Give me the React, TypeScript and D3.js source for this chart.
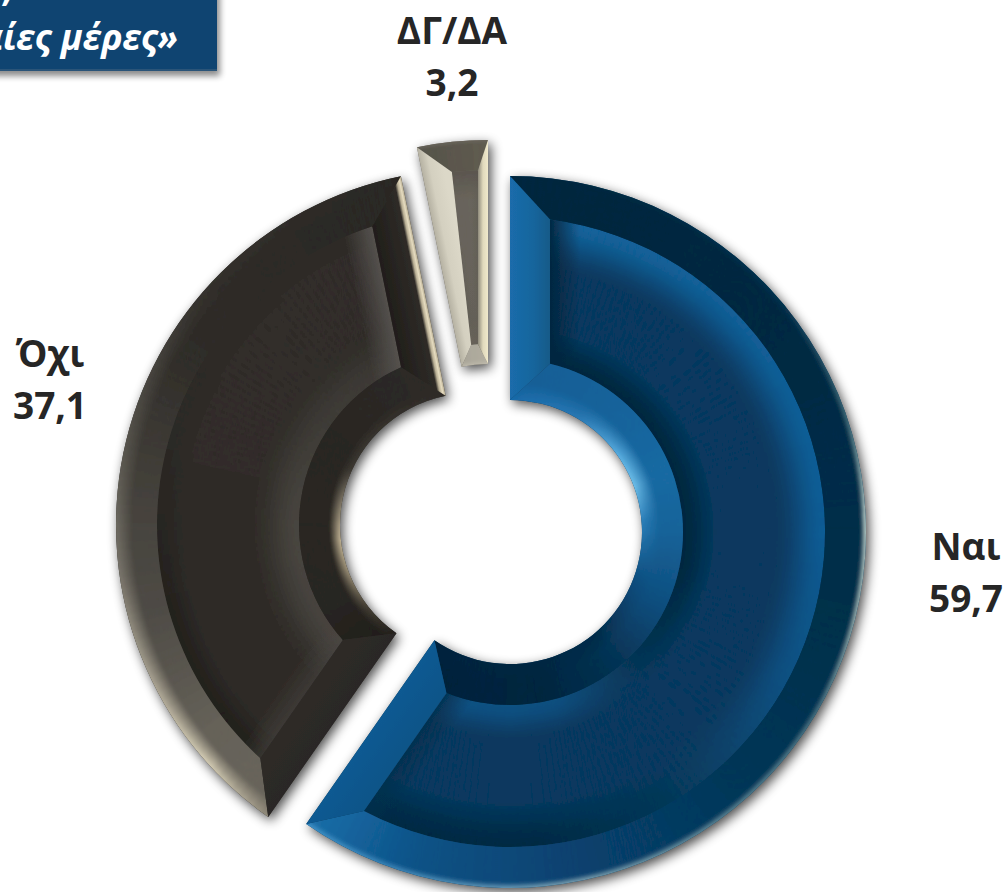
import React from "react";
import * as d3 from "d3";

const categories = ["Ναι", "Όχι", "ΔΓ/ΔΑ"];
const values = [59.7, 37.1, 3.2];
const titleLines = [",", "τις τελευταίες μέρες»"];

type Stops = [number, string][];
type Look = {
  dx: number; dy: number; lx: number; ly: number;
  bevelOut: number; bevelIn: number; perpS: number; perpE: number; offS: number; offE: number;
  under: string;
  outerBase: Stops; outerEdge: Stops; outerW: number;
  innerBase: Stops; innerEdge: Stops; innerW: number;
  faceMid: Stops; faceIn: Stops; faceOut: Stops; fadeIn: number; fadeOut: number;
  sideS: [number, string][]; sideE: [number, string][]; sideWS: number; sideWE: number;
  overS: [string, number, number]; overE: [string, number, number];
};

const looks: Look[] = [
  {
    dx: 0, dy: 0, lx: 966, ly: 560,
    bevelOut: 41, bevelIn: 41, perpS: 40, perpE: 40, offS: 0, offE: 0, under: "#07395f",
    outerBase: [[0, "#03263c"], [50, "#032a42"], [100, "#032f4a"], [135, "#053756"], [170, "#084270"], [195, "#0d5286"], [207, "#14639c"], [215, "#1c70aa"]],
    outerEdge: [[0, "#03263c"], [50, "#063450"], [72, "#3f6b78"], [88, "#b4c8c4"], [105, "#90a8a8"], [120, "#46707f"], [140, "#56808f"], [170, "#7a9fb0"], [200, "#3a85b8"], [215, "#3f92c8"]],
    outerW: 5,
    innerBase: [[0, "#145f97"], [40, "#17649c"], [70, "#1a6ba4"], [90, "#17649a"], [115, "#0f5080"], [140, "#073555"], [170, "#03253e"], [215, "#03233a"]],
    innerEdge: [[0, "#1a6cab"], [30, "#2a7ab6"], [55, "#5fb4e6"], [70, "#74c4ee"], [85, "#2f83bd"], [110, "#0d4f80"], [140, "#052c48"], [215, "#04233c"]],
    innerW: 18,
    faceMid: [[0, "#07395f"], [215, "#07395f"]],
    faceIn: [[0, "#03283f"], [100, "#03283f"], [135, "#063453"], [165, "#0d5080"], [215, "#0e5386"]],
    faceOut: [[0, "#14649c"], [90, "#105c94"], [120, "#0c5080"], [150, "#063858"], [175, "#032a44"], [215, "#032a44"]],
    fadeIn: 38, fadeOut: 52,
    sideS: [[0, "#1a6cab"], [0.6, "#17659c"], [1, "#145a88"]],
    sideE: [[0, "#0f5a92"], [1, "#0e5488"]],
    sideWS: 40, sideWE: 40,
    overS: ["#03263f", 0.95, 30], overE: ["#04304e", 0.85, 26],
  },
  {
    dx: -38, dy: -7, lx: 50, ly: 367,
    bevelOut: 41, bevelIn: 41, perpS: 40, perpE: 38, offS: 0, offE: 0, under: "#2f2c28",
    outerBase: [[215, "#6a665c"], [232, "#67635a"], [255, "#4f4c46"], [275, "#45423c"], [300, "#312e2a"], [349, "#2b2824"]],
    outerEdge: [[215, "#8f897a"], [228, "#d8d0b8"], [245, "#a8a291"], [262, "#7a766c"], [285, "#55524b"], [310, "#36332f"], [349, "#2b2824"]],
    outerW: 16,
    innerBase: [[215, "#201e1b"], [240, "#292622"], [262, "#292622"], [300, "#2a2723"], [349, "#2f2c28"]],
    innerEdge: [[215, "#25231f"], [232, "#4a4438"], [250, "#a2967c"], [264, "#cbbc9b"], [280, "#877f6d"], [295, "#3e3a34"], [349, "#2f2c28"]],
    innerW: 11,
    faceMid: [[215, "#2f2c28"], [349, "#302d29"]],
    faceIn: [[215, "#46433e"], [270, "#48453f"], [300, "#403d38"], [349, "#3a3733"]],
    faceOut: [[215, "#23201d"], [255, "#24211e"], [290, "#2d2a26"], [349, "#302d29"]],
    fadeIn: 50, fadeOut: 34,
    sideS: [[0, "#2b2825"], [1, "#2e2b28"]],
    sideE: [[0, "#b8ae94"], [0.06, "#e6dcc0"], [0.13, "#b8ae94"], [0.2, "#2e2b27"], [1, "#211e1b"]],
    sideWS: 40, sideWE: 38,
    overS: ["#4a4743", 0.5, 24], overE: ["#56534f", 0.95, 30],
  },
  {
    dx: -22, dy: -36, lx: 452, ly: 44,
    bevelOut: 30, bevelIn: 20, perpS: 0, perpE: 10, offS: 0.09, offE: 0, under: "#66625a",
    outerBase: [[348, "#55524a"], [360, "#5f5b50"]],
    outerEdge: [[348, "#6a665c"], [360, "#6a665c"]],
    outerW: 3,
    innerBase: [[348, "#a8a498"], [360, "#b4b0a2"]],
    innerEdge: [[348, "#c0bcae"], [360, "#c0bcae"]],
    innerW: 4,
    faceMid: [[348, "#66625a"], [360, "#6a665c"]],
    faceIn: [[348, "#6e6a60"], [360, "#6e6a60"]],
    faceOut: [[348, "#5c5850"], [360, "#5c5850"]],
    fadeIn: 30, fadeOut: 30,
    sideS: [[0, "#b5b1a2"], [0.4, "#d4d0c0"], [1, "#dcd8c8"]],
    sideE: [[0, "#f0e9cc"], [0.5, "#e0d9bc"], [1, "#8f8b7c"]],
    sideWS: 22, sideWE: 10,
    overS: ["#5a564e", 0.3, 8], overE: ["#5a564e", 0.3, 8],
  },
];

const CX = 510, CY = 532, R = 356, R0 = 132;
const DEG = 180 / Math.PI;
const BLEED = 6;
const unit = (v: number) => Math.max(0, Math.min(1, v));
const pt = (a: number, r: number): [number, number] => [r * Math.sin(a), -r * Math.cos(a)];
const ramp = (stops: Stops) =>
  d3.scaleLinear<string>().domain(stops.map((s) => s[0])).range(stops.map((s) => s[1])).interpolate(d3.interpolateRgb).clamp(true);

const cellArc = d3.arc<any>();
const pieGen = d3.pie<number>().sort(null).startAngle(0).endAngle(2 * Math.PI);

function Slice({ index, a0, a1 }: { index: number; a0: number; a1: number }) {
  const k = looks[index];
  const Ro = R - k.bevelOut, Ri = R0 + k.bevelIn;
  const as = (r: number) => a0 + Math.asin(k.perpS / r) + k.offS;
  const ae = (r: number) => a1 - Math.asin(k.perpE / r) - k.offE;
  const arcTo = (p: d3.Path, r: number, from: number, to: number) =>
    p.arc(0, 0, r, from - Math.PI / 2, to - Math.PI / 2, to < from);
  const poly = (pts: [number, number][]) => {
    const p = d3.path();
    pts.forEach((q, i) => (i ? p.lineTo(q[0], q[1]) : p.moveTo(q[0], q[1])));
    p.closePath();
    return p.toString();
  };
  const band = (r: number, rc: number, f: number, t: number) => {
    const p = d3.path();
    const s = pt(f, r);
    p.moveTo(s[0], s[1]);
    arcTo(p, r, f, t);
    const c = pt(ae(rc), rc);
    p.lineTo(c[0], c[1]);
    arcTo(p, rc, ae(rc), as(rc));
    p.closePath();
    return p.toString();
  };
  const outerP = band(R, Ro, a0, a1);
  const innerP = band(R0, Ri, a0, a1);
  const faceP = (() => {
    const p = d3.path();
    const s = pt(as(Ro), Ro);
    p.moveTo(s[0], s[1]);
    arcTo(p, Ro, as(Ro), ae(Ro));
    const c = pt(ae(Ri), Ri);
    p.lineTo(c[0], c[1]);
    arcTo(p, Ri, ae(Ri), as(Ri));
    p.closePath();
    return p.toString();
  })();
  const sideSP = poly([pt(a0, R), pt(as(Ro), Ro), pt(as(Ri), Ri), pt(a0, R0)]);
  const sideEP = poly([pt(a1, R), pt(ae(Ro), Ro), pt(ae(Ri), Ri), pt(a1, R0)]);
  const whole = cellArc({ innerRadius: R0, outerRadius: R, startAngle: a0, endAngle: a1 }) as string;

  const step = 1.5 / DEG;
  const angles = d3.range(a0 - 3 * step, a1 + 3 * step, step);
  const cells = (rA: number, rB: number, dr: number, color: (deg: number, r: number) => string) => {
    const out: React.ReactNode[] = [];
    for (let r = rA - BLEED; r < rB + BLEED; r += dr) {
      angles.forEach((a, i) => {
        const c = color((a + step / 2) * DEG, r + dr / 2);
        out.push(
          <path key={r + "_" + i} fill={c} stroke={c} strokeWidth={0.7}
            d={cellArc({ innerRadius: r, outerRadius: r + dr, startAngle: a, endAngle: a + step }) as string} />
        );
      });
    }
    return out;
  };
  const oB = ramp(k.outerBase), oE = ramp(k.outerEdge), iB = ramp(k.innerBase), iE = ramp(k.innerEdge);
  const fM = ramp(k.faceMid), fI = ramp(k.faceIn), fO = ramp(k.faceOut);
  const outerColor = (d: number, r: number) => d3.interpolateRgb(oE(d), oB(d))(unit((R - r) / k.outerW));
  const innerColor = (d: number, r: number) => d3.interpolateRgb(iE(d), iB(d))(unit((r - R0) / k.innerW));
  const faceColor = (d: number, r: number) => {
    let c = fM(d);
    const di = unit((r - Ri) / k.fadeIn), dd = unit((Ro - r) / k.fadeOut);
    if (di < 1) c = d3.interpolateRgb(fI(d), c)(d3.easeSinInOut(di));
    if (dd < 1) c = d3.interpolateRgb(fO(d), c)(d3.easeSinInOut(dd));
    return c;
  };

  const nS: [number, number] = [Math.cos(a0), Math.sin(a0)];
  const nE: [number, number] = [-Math.cos(a1), -Math.sin(a1)];
  const eS = pt(a0, 200), eE = pt(a1, 200);
  const gradS = { x1: eS[0], y1: eS[1], x2: eS[0] + nS[0] * k.sideWS, y2: eS[1] + nS[1] * k.sideWS };
  const gradE = { x1: eE[0], y1: eE[1], x2: eE[0] + nE[0] * k.sideWE, y2: eE[1] + nE[1] * k.sideWE };
  const pS = pt(as(200), 200), pE = pt(ae(200), 200);
  const ovS = { x1: pS[0], y1: pS[1], x2: pS[0] + nS[0] * k.overS[2], y2: pS[1] + nS[1] * k.overS[2] };
  const ovE = { x1: pE[0], y1: pE[1], x2: pE[0] + nE[0] * k.overE[2], y2: pE[1] + nE[1] * k.overE[2] };
  const strip = (a: number, n: [number, number], w: number) => {
    const A = pt(a, R + 40), B = pt(a, R0 - 60);
    return poly([A, [A[0] + n[0] * w, A[1] + n[1] * w], [B[0] + n[0] * w, B[1] + n[1] * w], B]);
  };
  const stripS = strip(a0, nS, k.sideWS + k.overS[2] + 20);
  const stripE = strip(a1, nE, k.sideWE + k.overE[2] + 20);
  const id = "s" + index;

  return (
    <g transform={`translate(${CX + k.dx},${CY + k.dy})`} filter="url(#tiny)">
      <defs>
        <clipPath id={id + "o"}><path d={outerP} /></clipPath>
        <clipPath id={id + "i"}><path d={innerP} /></clipPath>
        <clipPath id={id + "f"}><path d={faceP} /></clipPath>
        <linearGradient id={id + "gs"} gradientUnits="userSpaceOnUse" {...gradS}>
          {k.sideS.map((s, i) => <stop key={i} offset={s[0]} stopColor={s[1]} />)}
        </linearGradient>
        <linearGradient id={id + "ge"} gradientUnits="userSpaceOnUse" {...gradE}>
          {k.sideE.map((s, i) => <stop key={i} offset={s[0]} stopColor={s[1]} />)}
        </linearGradient>
        <linearGradient id={id + "vs"} gradientUnits="userSpaceOnUse" {...ovS}>
          <stop offset={0} stopColor={k.overS[0]} stopOpacity={k.overS[1]} />
          <stop offset={1} stopColor={k.overS[0]} stopOpacity={0} />
        </linearGradient>
        <linearGradient id={id + "ve"} gradientUnits="userSpaceOnUse" {...ovE}>
          <stop offset={0} stopColor={k.overE[0]} stopOpacity={k.overE[1]} />
          <stop offset={1} stopColor={k.overE[0]} stopOpacity={0} />
        </linearGradient>
      </defs>
      <path d={whole} fill={k.under} />
      <g clipPath={`url(#${id}f)`}>
        <g filter="url(#smooth)">{cells(Ri, Ro, 3, faceColor)}</g>
        <path d={stripS} fill={`url(#${id}vs)`} />
        <path d={stripE} fill={`url(#${id}ve)`} />
      </g>
      <g clipPath={`url(#${id}o)`}><g filter="url(#smooth)">{cells(Ro, R, 2, outerColor)}</g></g>
      <g clipPath={`url(#${id}i)`}><g filter="url(#smooth)">{cells(R0, Ri, 2, innerColor)}</g></g>
      <path d={sideSP} fill={`url(#${id}gs)`} />
      <path d={sideEP} fill={`url(#${id}ge)`} />
    </g>
  );
}

export default function App() {
  const arcs = pieGen(values);
  const fontFamily = "'Open Sans', sans-serif";
  const silhouette = (i: number) =>
    cellArc({ innerRadius: R0, outerRadius: R, startAngle: arcs[i].startAngle, endAngle: arcs[i].endAngle }) as string;
  return (
    <svg width={1006} height={892} viewBox="0 0 1006 892" style={{ position: "absolute", left: 0, top: 0, display: "block" }}>
      <defs>
        <filter id="soft" x="-20%" y="-20%" width="140%" height="140%">
          <feGaussianBlur stdDeviation={6} />
        </filter>
        <filter id="tiny" x="-5%" y="-5%" width="110%" height="110%">
          <feGaussianBlur stdDeviation={0.6} />
        </filter>
        <filter id="smooth" x="-5%" y="-5%" width="110%" height="110%">
          <feGaussianBlur stdDeviation={1.4} />
        </filter>
        <filter id="softBox" x="-20%" y="-20%" width="140%" height="140%">
          <feGaussianBlur stdDeviation={3} />
        </filter>
      </defs>
      <rect width={1006} height={892} fill="#ffffff" />
      <rect x={-20} y={-20} width={240} height={96} fill="#000" opacity={0.45} filter="url(#softBox)" />
      <rect x={-20} y={-20} width={237} height={91} fill="#0f4471" />
      <rect x={-20} y={69} width={237} height={2} fill="#2a5478" />
      {titleLines.map((t, i) => (
        <text key={i} x={i === 0 ? 14 : 178} y={i === 0 ? 1 : 50} textAnchor="end" fill="#ffffff"
          fontFamily={fontFamily} fontWeight={700} fontStyle="italic" fontSize={36}>{t}</text>
      ))}
      {arcs.map((a, i) => (
        <path key={i} d={silhouette(i)} fill="#000" opacity={0.7} filter="url(#soft)"
          transform={`translate(${CX + looks[i].dx + 3},${CY + looks[i].dy + 4})`} />
      ))}
      {arcs.map((a, i) => <Slice key={i} index={i} a0={a.startAngle} a1={a.endAngle} />)}
      {categories.map((c, i) => (
        <g key={c} fontFamily={fontFamily} fontWeight={700} fontSize={37} fill="#262626" textAnchor="middle">
          <text x={looks[i].lx} y={looks[i].ly}>{c}</text>
          <text x={looks[i].lx} y={looks[i].ly + 52}>{String(values[i]).replace(".", ",")}</text>
        </g>
      ))}
    </svg>
  );
}
